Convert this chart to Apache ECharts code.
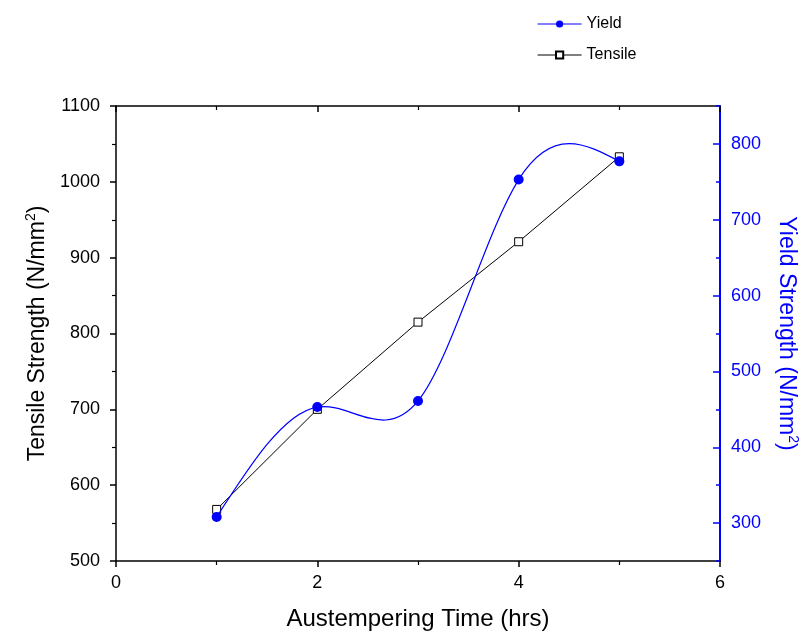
<!DOCTYPE html>
<html>
<head>
<meta charset="utf-8">
<script src="https://cdn.jsdelivr.net/npm/echarts@6/dist/echarts.min.js"></script>
<style>
  html, body { margin: 0; padding: 0; background: #fff; }
  #chart { width: 802px; height: 631px; }
</style>
</head>
<body>
<div id="chart"></div>
<script>
// data
var hours = [1, 2, 3, 4, 5];
var tensile = [568, 700, 815, 921, 1033];
var yieldStr = [308, 453, 461, 753, 777];
var yieldTicks = [300, 400, 500, 600, 700, 800];

var font = 'Liberation Sans, Arial, sans-serif';
var blue = '#0000ff';

var myChart = echarts.init(document.getElementById('chart'));

function pairs(xs, ys) {
    var out = [];
    for (var i = 0; i < xs.length; i++) out.push([xs[i], ys[i]]);
    return out;
}

// natural cubic spline slopes at the knots (like Origin's spline line)
function splineSlopes(xs, ys) {
    var n = xs.length, h = [], m = [], i;
    for (i = 0; i < n - 1; i++) h.push(xs[i + 1] - xs[i]);
    // tridiagonal solve for second derivatives, M0 = Mn-1 = 0
    var a = [], b = [], c = [], d = [];
    for (i = 1; i < n - 1; i++) {
        a.push(h[i - 1]); b.push(2 * (h[i - 1] + h[i])); c.push(h[i]);
        d.push(6 * ((ys[i + 1] - ys[i]) / h[i] - (ys[i] - ys[i - 1]) / h[i - 1]));
    }
    var k = d.length;
    for (i = 1; i < k; i++) {
        var w = a[i] / b[i - 1];
        b[i] -= w * c[i - 1];
        d[i] -= w * d[i - 1];
    }
    var inner = new Array(k);
    for (i = k - 1; i >= 0; i--) {
        inner[i] = (d[i] - (i < k - 1 ? c[i] * inner[i + 1] : 0)) / b[i];
    }
    m = [0].concat(inner, [0]);
    var slopes = [];
    for (i = 0; i < n - 1; i++) {
        var s = (ys[i + 1] - ys[i]) / h[i];
        slopes.push([s - h[i] * (2 * m[i] + m[i + 1]) / 6, s + h[i] * (m[i] + 2 * m[i + 1]) / 6]);
    }
    return slopes;
}
var yieldSlopes = splineSlopes(hours, yieldStr);

function renderYieldCurve(params, api) {
    var i = params.dataIndex;
    if (i >= hours.length - 1) return null;
    var x0 = hours[i], x1 = hours[i + 1], h = x1 - x0;
    var y0 = yieldStr[i], y1 = yieldStr[i + 1];
    var p0 = api.coord([x0, y0]);
    var p1 = api.coord([x1, y1]);
    var c0 = api.coord([x0 + h / 3, y0 + yieldSlopes[i][0] * h / 3]);
    var c1 = api.coord([x1 - h / 3, y1 - yieldSlopes[i][1] * h / 3]);
    return {
        type: 'bezierCurve',
        shape: {x1: p0[0], y1: p0[1], x2: p1[0], y2: p1[1],
                cpx1: c0[0], cpy1: c0[1], cpx2: c1[0], cpy2: c1[1]},
        style: {stroke: blue, fill: null, lineWidth: 1.2}
    };
}

var tickStyle = {color: '#000', width: 1.5};
var minorStyle = {color: '#000', width: 1.2};

var option = {
    backgroundColor: '#fff',
    animation: false,
    textStyle: {fontFamily: font},
    grid: [
        {left: 116, right: 82, top: 106, bottom: 70, containLabel: false, outerBoundsMode: 'none'},
        {left: 116, right: 82, top: 106, bottom: 70, containLabel: false, outerBoundsMode: 'none'}
    ],
    legend: {
        orient: 'vertical',
        left: 532, top: 11,
        itemWidth: 44, itemHeight: 9, itemGap: 15,
        data: [
            {name: 'Yield', lineStyle: {color: blue, width: 1.2, opacity: 1}},
            {name: 'Tensile', lineStyle: {color: '#000', width: 1}}
        ],
        textStyle: {fontSize: 16, color: '#000', fontFamily: font}
    },
    xAxis: [
        {
            type: 'value', min: 0, max: 6, interval: 2,
            name: 'Austempering Time (hrs)', nameLocation: 'middle', nameGap: 46,
            nameTextStyle: {fontSize: 24, color: '#000'},
            axisLine: {onZero: false, lineStyle: {color: '#000', width: 1.5}},
            axisTick: {length: 6, lineStyle: tickStyle},
            minorTick: {show: true, splitNumber: 2, length: 4, lineStyle: minorStyle},
            axisLabel: {fontSize: 18, color: '#000', margin: 13},
            splitLine: {show: false}
        },
        {
            type: 'value', min: 0, max: 6, interval: 2, position: 'top',
            axisLine: {onZero: false, lineStyle: {color: '#000', width: 1.5}},
            axisTick: {inside: true, length: 6, lineStyle: tickStyle},
            minorTick: {show: true, splitNumber: 2, length: 4, lineStyle: minorStyle},
            axisLabel: {show: false},
            splitLine: {show: false}
        },
        {
            gridIndex: 1, type: 'value', min: 0, max: 6, show: false
        }
    ],
    yAxis: [
        {
            type: 'value', min: 500, max: 1100, interval: 100,
            name: 'Tensile Strength (N/mm{sup|2})', nameLocation: 'middle', nameGap: 65,
            nameTextStyle: {fontSize: 23, color: '#000',
                rich: {sup: {fontSize: 14, color: '#000', padding: [0, 0, 13, 0]}}},
            axisLine: {show: true, onZero: false, lineStyle: {color: '#000', width: 1.5}},
            axisTick: {length: 6, lineStyle: tickStyle},
            minorTick: {show: true, splitNumber: 2, length: 4, lineStyle: minorStyle},
            axisLabel: {fontSize: 18, color: '#000', margin: 16,
                formatter: function (v) { return String(v); }},
            splitLine: {show: false}
        },
        {
            type: 'value', min: 250, max: 850, interval: 50, position: 'right',
            name: 'Yield Strength (N/mm{sup|2})', nameLocation: 'middle', nameGap: 53, nameRotate: -90,
            nameTextStyle: {fontSize: 23, color: blue,
                rich: {sup: {fontSize: 14, color: blue, padding: [0, 0, 13, 0]}}},
            axisLine: {show: true, onZero: false, lineStyle: {color: blue, width: 2}},
            axisTick: {inside: true, length: 4, lineStyle: {color: blue, width: 1.5}},
            axisLabel: {fontSize: 18, color: blue, margin: 11, customValues: yieldTicks},
            splitLine: {show: false}
        },
        {
            // longer ticks at the labelled yield values, same box on grid 1
            gridIndex: 1, type: 'value', min: 250, max: 850, interval: 50, position: 'right',
            axisLine: {show: false, onZero: false},
            axisTick: {inside: true, length: 7, customValues: yieldTicks, lineStyle: {color: blue, width: 1.5}},
            axisLabel: {show: false},
            splitLine: {show: false}
        }
    ],
    series: [
        {
            name: 'Tensile', type: 'line',
            xAxisIndex: 0, yAxisIndex: 0,
            data: pairs(hours, tensile),
            symbol: 'rect', symbolSize: 8,
            lineStyle: {color: '#000', width: 1},
            itemStyle: {color: '#fff', borderColor: '#000', borderWidth: 1},
            z: 2
        },
        {
            name: 'Yield curve', type: 'custom',
            xAxisIndex: 0, yAxisIndex: 1,
            data: pairs(hours, yieldStr),
            renderItem: renderYieldCurve,
            silent: true,
            z: 3
        },
        {
            name: 'Yield', type: 'line',
            xAxisIndex: 0, yAxisIndex: 1,
            data: pairs(hours, yieldStr),
            symbol: 'circle', symbolSize: 10,
            lineStyle: {color: blue, width: 1.2, opacity: 0},
            itemStyle: {color: blue, borderWidth: 0},
            z: 4
        }
    ]
};

myChart.setOption(option);
</script>
</body>
</html>
